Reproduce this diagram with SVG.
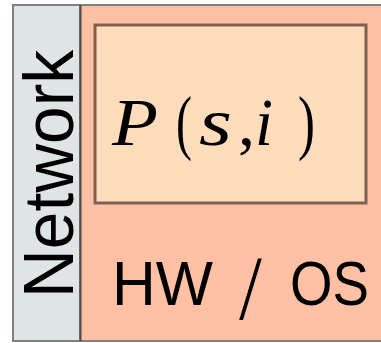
<svg xmlns="http://www.w3.org/2000/svg" width="381" height="343" viewBox="0 0 381 343">
<style>
.lbl{font-family:"Liberation Sans",Arial,sans-serif;fill:#000}
.thin{font-family:"DejaVu Sans ExtraLight","DejaVu Sans",sans-serif;font-weight:200;fill:#000}
.m{font-family:"Liberation Serif","Times New Roman",serif;fill:#000}
.it{font-style:italic}
</style>
<rect width="381" height="343" fill="#fff"/>
<g id="hwos">
<rect x="13" y="5" width="372" height="336" fill="#ffc0a4" stroke="#808080" stroke-width="2"/>
<text class="lbl" x="112" y="305" font-size="63" textLength="101" lengthAdjust="spacingAndGlyphs">HW</text>
<text class="thin" x="238" y="313" font-size="74">/</text>
<text class="lbl" x="290" y="305" font-size="63" textLength="79" lengthAdjust="spacingAndGlyphs">OS</text>
</g>
<g id="network">
<rect x="13" y="5" width="67" height="336" fill="#dfe4e4" stroke="#808080" stroke-width="2"/>
<line x1="80.5" y1="5" x2="80.5" y2="341" stroke="#4d4d4d" stroke-width="2"/>
<text class="lbl" transform="translate(73,298) rotate(-90)" x="0" y="0" font-size="70" textLength="248" lengthAdjust="spacingAndGlyphs">Network</text>
</g>
<g id="process">
<rect x="95" y="25" width="271" height="178" fill="#fedcbc" stroke="#806050" stroke-width="3"/>
<text class="m it" x="112" y="145" font-size="67" textLength="46" lengthAdjust="spacingAndGlyphs">P</text>
<text class="m" x="176" y="146" font-size="72" textLength="16" lengthAdjust="spacingAndGlyphs">(</text>
<text class="m it" x="199" y="145" font-size="68" textLength="33" lengthAdjust="spacingAndGlyphs">s</text>
<text class="m" x="238" y="145" font-size="68">,</text>
<text class="m it" x="255" y="145" font-size="68" textLength="18" lengthAdjust="spacingAndGlyphs">i</text>
<text class="m" x="298" y="146" font-size="72" textLength="17" lengthAdjust="spacingAndGlyphs">)</text>
</g>
</svg>
